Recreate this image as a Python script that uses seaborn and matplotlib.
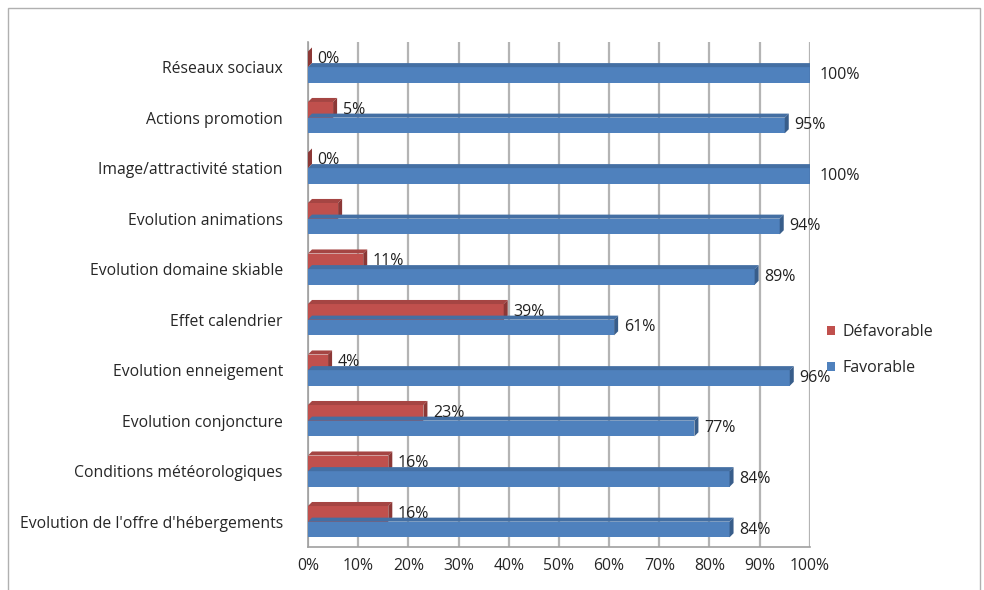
import pandas as pd
import matplotlib.pyplot as plt
import seaborn as sns
from matplotlib.patches import Polygon, Rectangle
from matplotlib.ticker import PercentFormatter

categories = ["Réseaux sociaux", "Actions promotion", "Image/attractivité station",
              "Evolution animations", "Evolution domaine skiable", "Effet calendrier",
              "Evolution enneigement", "Evolution conjoncture", "Conditions météorologiques",
              "Evolution de l'offre d'hébergements"]
defavorable = [0, 5, 0, 6, 11, 39, 4, 23, 16, 16]
favorable = [100, 95, 100, 94, 89, 61, 96, 77, 84, 84]
# the chart shows no label on the red bar of "Evolution animations"
defavorable_labels = ["0%", "5%", "0%", "", "11%", "39%", "4%", "23%", "16%", "16%"]
favorable_labels = [f"{v}%" for v in favorable]

df = pd.DataFrame({
    "categorie": categories * 2,
    "valeur": [v / 100 for v in defavorable] + [v / 100 for v in favorable],
    "avis": ["Défavorable"] * len(categories) + ["Favorable"] * len(categories),
})

sns.set_style("white")
plt.rcParams['font.family'] = ['Open Sans', 'DejaVu Sans']

fig = plt.figure(figsize=(9.84, 5.9), dpi=100)
ax = fig.add_axes([0.313, 0.073, 0.510, 0.856])

colors = {"Défavorable": "#C0504D", "Favorable": "#4F81BD"}
topc = {"Défavorable": "#A54543", "Favorable": "#446FA3"}
dark = {"Défavorable": "#8C3836", "Favorable": "#385D8A"}
sns.barplot(data=df, y="categorie", x="valeur", hue="avis", order=categories,
            hue_order=["Défavorable", "Favorable"], palette=colors, width=0.62,
            saturation=1, linewidth=0, orient="h", ax=ax, zorder=3)

# fake 3D depth on each bar
dx, dy = 0.008, 0.08
for cont, name in zip(ax.containers, ["Défavorable", "Favorable"]):
    for p in cont:
        x0, y0 = p.get_x(), p.get_y()
        w, h = p.get_width(), p.get_height()
        top = Polygon([(x0, y0), (x0 + dx, y0 - dy), (x0 + w + dx, y0 - dy), (x0 + w, y0)],
                      closed=True, facecolor=topc[name], edgecolor="none", zorder=3)
        side = Polygon([(x0 + w, y0), (x0 + w + dx, y0 - dy), (x0 + w + dx, y0 + h - dy), (x0 + w, y0 + h)],
                       closed=True, facecolor=dark[name], edgecolor="none", zorder=3)
        ax.add_patch(top)
        ax.add_patch(side)

ax.bar_label(ax.containers[0], labels=defavorable_labels, padding=7, fontsize=11.5, color="#222222")
ax.bar_label(ax.containers[1], labels=favorable_labels, padding=7, fontsize=11.5, color="#222222")

ax.set_xlim(0, 1.0)
ax.set_ylim(9.5, -0.5)
ax.set_xticks([i / 10 for i in range(11)])
ax.xaxis.set_major_formatter(PercentFormatter(1.0, decimals=0))
ax.grid(axis="x", color="#B4B4B4", linewidth=1.6, zorder=0)
ax.set_xlabel("")
ax.set_ylabel("")
ax.tick_params(axis="y", labelsize=11.3, pad=18, length=0)
ax.tick_params(axis="x", labelsize=11.3, pad=8, length=0)
for s in ["top", "right"]:
    ax.spines[s].set_visible(False)
for s in ["left", "bottom"]:
    ax.spines[s].set_color("#A0A0A0")
    ax.spines[s].set_linewidth(1.2)

leg = ax.legend(loc="center left", bbox_to_anchor=(1.005, 0.39), frameon=False,
                fontsize=11.5, handlelength=0.5, handleheight=0.5, handletextpad=0.5,
                labelspacing=1.25)

fig.patches.append(Rectangle((8 / 984, -0.05), 972 / 984, 1.05 - 8 / 590, transform=fig.transFigure,
                             fill=False, edgecolor="#B0B0B0", linewidth=1))

plt.savefig("out.png", dpi=100)
